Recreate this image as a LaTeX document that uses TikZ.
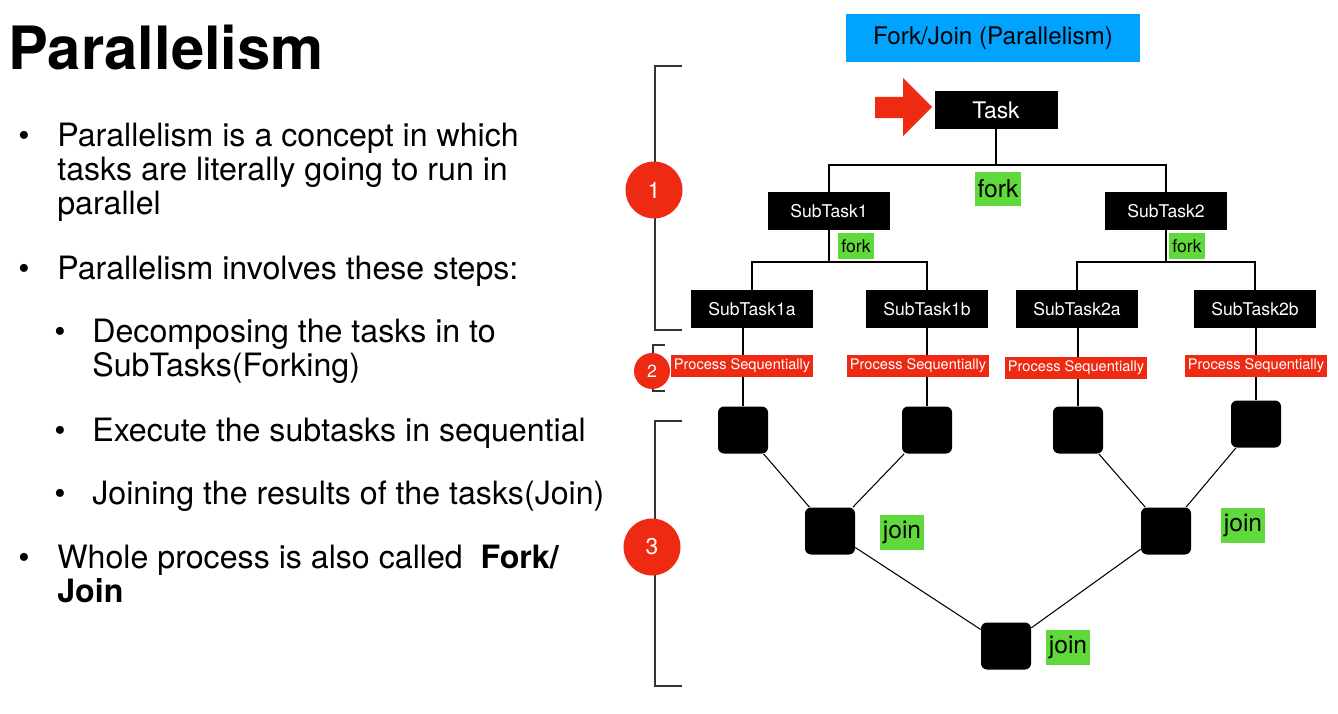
\documentclass[tikz,border=0pt]{standalone}
\usepackage{fontspec}
\setmainfont{TeX Gyre Heros}
\usetikzlibrary{positioning,calc}
\definecolor{redc}{HTML}{EE2A13}
\definecolor{greenc}{HTML}{5FD93B}
\definecolor{bluec}{HTML}{00A3FF}
\definecolor{brackc}{HTML}{333333}
\tikzset{
    x=0.02cm,
    y=-0.02cm,
    title/.style = {
        anchor=base west,
        inner sep=0,
        font=\fontsize{34}{36}\selectfont\bfseries
    },
    bullettext/.style = {
        anchor=base west,
        inner sep=0,
        font=\fontsize{18.3}{20}\selectfont
    },
    header/.style = {
        fill=bluec,
        minimum width=5.88cm,
        minimum height=0.96cm,
        inner sep=0,
        font=\fontsize{13.8}{15}\selectfont
    },
    taskbox/.style = {
        fill=black,
        text=white,
        minimum width=2.44cm,
        minimum height=0.76cm,
        inner sep=0,
        font=\fontsize{10}{12}\selectfont
    },
    seqlabel/.style = {
        fill=redc,
        text=white,
        minimum width=2.84cm,
        minimum height=0.44cm,
        inner sep=0,
        font=\fontsize{8.3}{10}\selectfont
    },
    runbox/.style = {
        fill=black,
        rounded corners=0.12cm,
        minimum width=1cm,
        minimum height=0.94cm
    },
    greenlabel/.style = {
        fill=greenc,
        inner sep=0,
        minimum width=0.88cm,
        minimum height=0.7cm,
        font=\fontsize{14}{16}\selectfont
    },
    smallfork/.style = {
        fill=greenc,
        inner sep=0,
        minimum width=0.72cm,
        minimum height=0.54cm,
        font=\fontsize{10}{12}\selectfont
    },
    stepnum/.style = {
        circle,
        fill=redc,
        text=white,
        inner sep=0,
        font=\fontsize{13}{15}\selectfont
    },
    bracket/.style = {
        draw=brackc,
        line width=0.9pt
    },
    tree/.style = {
        draw,
        line width=1.2pt
    },
    joinline/.style = {
        draw,
        line width=0.6pt
    },
}
\begin{document}
\begin{tikzpicture}
    \useasboundingbox (0,0) rectangle (1338,713);

    % left column
    \node[title] (ttl) at (8,70) {Parallelism};

    \node[bullettext] (b1) at (18,146) {•};
    \node[bullettext] (l1) at (57,146) {Parallelism is a concept in which};
    \node[bullettext] (l2) at (57,180) {tasks are literally going to run in};
    \node[bullettext] (l3) at (57,214) {parallel};
    \node[bullettext] (b2) at (18,279) {•};
    \node[bullettext] (l4) at (57,279) {Parallelism involves these steps:};
    \node[bullettext] (b3) at (54,342) {•};
    \node[bullettext] (l5) at (92,342) {Decomposing the tasks in to};
    \node[bullettext] (l6) at (92,376) {SubTasks(Forking)};
    \node[bullettext] (b4) at (54,441) {•};
    \node[bullettext] (l7) at (92,441) {Execute the subtasks in sequential};
    \node[bullettext] (b5) at (54,504) {•};
    \node[bullettext] (l8) at (92,504) {Joining the results of the tasks(Join)};
    \node[bullettext] (b6) at (18,568) {•};
    \node[bullettext] (l9) at (57,568) {Whole process is also called \ \textbf{Fork/}};
    \node[bullettext] (l10) at (57,602) {\textbf{Join}};

    % brackets
    \path[bracket] (682,66) -- (655,66) -- (655,330) -- (682,330);
    \path[bracket] (665,345) -- (653,345) -- (653,391) -- (665,391);
    \path[bracket] (682,421) -- (655,421) -- (655,686) -- (682,686);
    \node[stepnum, minimum size=1.14cm] (n1) at (654,190) {1};
    \node[stepnum, minimum size=0.72cm, font=\fontsize{10}{12}\selectfont] (n2) at (652,371) {2};
    \node[stepnum, minimum size=1.14cm] (n3) at (652,547) {3};

    % tree
    \node[header] (hdr) at (993,38) {Fork/Join (Parallelism)};
    \node[taskbox, minimum width=2.46cm, font=\fontsize{13}{15}\selectfont] (task) at (996,110) {Task};
    \path[fill=redc] (875,97) -- (903,97) -- (903,78) -- (932,107) -- (903,136) -- (903,118) -- (875,118) -- cycle;

    \node[taskbox] (st1) at (829,211) {SubTask1};
    \node[taskbox] (st2) at (1166,211) {SubTask2};
    \node[taskbox] (st1a) at (752,309) {SubTask1a};
    \node[taskbox] (st1b) at (927,309) {SubTask1b};
    \node[taskbox] (st2a) at (1077,309) {SubTask2a};
    \node[taskbox] (st2b) at (1255,309) {SubTask2b};

    \coordinate (fk0) at (996,165);
    \coordinate (fk1) at (829,262);
    \coordinate (fk2) at (1166,262);
    \path[tree] (task) -- (fk0);
    \path[tree] (st1.north) |- (fk0) -| (st2.north);
    \path[tree] (st1) -- (fk1);
    \path[tree] (st1a.north) |- (fk1) -| (st1b.north);
    \path[tree] (st2) -- (fk2);
    \path[tree] (st2a.north) |- (fk2) -| (st2b.north);

    \node[greenlabel, minimum width=0.92cm] (fork0) at (998,189) {fork};
    \node[smallfork] (fork1) at (856,246) {fork};
    \node[smallfork] (fork2) at (1187,246) {fork};

    % sequential runs
    \node[runbox] (r1a) at (743,430) {};
    \node[runbox] (r1b) at (927,430) {};
    \node[runbox] (r2a) at (1078,430) {};
    \node[runbox] (r2b) at (1256,424) {};
    \path[tree] (r1a |- st1a.south) -- (r1a);
    \path[tree] (r1b |- st1b.south) -- (r1b);
    \path[tree] (r2a |- st2a.south) -- (r2a);
    \path[tree] (r2b |- st2b.south) -- (r2b);
    \node[seqlabel] (ps1a) at (742,366) {Process Sequentially};
    \node[seqlabel] (ps1b) at (918,366) {Process Sequentially};
    \node[seqlabel] (ps2a) at (1076,368) {Process Sequentially};
    \node[seqlabel] (ps2b) at (1256,366) {Process Sequentially};

    % joins
    \node[runbox] (j1) at (830,531) {};
    \node[runbox] (j2) at (1166,531) {};
    \node[runbox] (j3) at (1006,646) {};
    \path[joinline] (r1a) -- (j1);
    \path[joinline] (r1b) -- (j1);
    \path[joinline] (r2a) -- (j2);
    \path[joinline] (r2b) -- (j2);
    \path[joinline] (j1) -- (j3);
    \path[joinline] (j2) -- (j3);
    \node[greenlabel] (jl1) at (902,532) {join};
    \node[greenlabel] (jl2) at (1243,525) {join};
    \node[greenlabel] (jl3) at (1068,647) {join};
\end{tikzpicture}
\end{document}
